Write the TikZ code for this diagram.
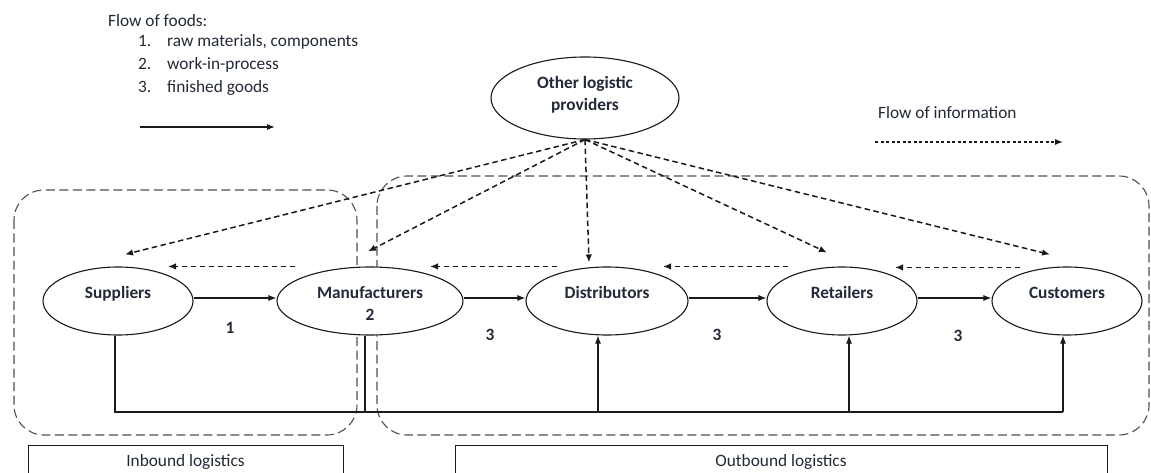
\documentclass[tikz,border=0pt]{standalone}
\usepackage{fontspec}
\setmainfont{Carlito}
\usetikzlibrary{arrows.meta,shapes.geometric,calc}
\definecolor{ink}{RGB}{25,25,30}
\definecolor{txt}{RGB}{35,42,55}
\definecolor{boxc}{RGB}{80,80,80}
\begin{document}
\begin{tikzpicture}[x=1pt,y=-1pt,
  ell/.style={ellipse, draw=ink, fill=white, line width=1.1pt, inner sep=0pt, text height=10pt, text depth=16pt,
    font=\fontsize{17.3}{22}\selectfont\bfseries, text=txt},
  lbox/.style={draw=ink, line width=1pt, anchor=north, inner ysep=0pt, text height=21pt, text depth=22pt,
    font=\fontsize{17.3}{22}\selectfont, text=txt},
  txtn/.style={inner sep=0pt, font=\fontsize{17.3}{22}\selectfont, text=txt},
  num/.style={inner sep=0pt, font=\fontsize{17.3}{22}\selectfont\bfseries, text=txt},
  line/.style={draw=ink, line width=1.1pt},
  flow/.style={line, -{Latex[length=8pt,width=6pt]}},
  info/.style={draw=ink, line width=1.5pt, dash pattern=on 5.5pt off 3.5pt, -{Latex[length=8pt,width=6.5pt]}},
  infolg/.style={draw=ink, line width=1.1pt, dash pattern=on 3pt off 2.5pt, -{Latex[length=8pt,width=6pt]}},
  boxd/.style={draw=boxc, line width=1.1pt, dash pattern=on 9pt off 4.5pt, rounded corners=30pt}
]
\useasboundingbox (0,0) rectangle (1151,473);
\clip (0,0) rectangle (1151,473);
\fill[white] (0,0) rectangle (1151,473);

% legend
\node[txtn, anchor=base west] (fof) at (108,27) {Flow of foods:};
\node[txtn, anchor=base west] (n1) at (138,47) {1.};
\node[txtn, anchor=base west] (t1) at (167,47) {raw materials, components};
\node[txtn, anchor=base west] (n2) at (138,70) {2.};
\node[txtn, anchor=base west] (t2) at (167,70) {work-in-process};
\node[txtn, anchor=base west] (n3) at (138,93) {3.};
\node[txtn, anchor=base west] (t3) at (167,93) {finished goods};
\coordinate (lgA) at (140,127);
\coordinate (lgB) at (275,127);
\draw[flow] (lgA) -- (lgB);

\node[txtn, anchor=base west] (foi) at (878,119) {Flow of information};
\coordinate (liA) at (875,142);
\coordinate (liB) at (1063,142);
\draw[infolg] (liA) -- (liB);

% dashed regions
\draw[boxd] (14,190) rectangle (357,435);
\draw[boxd] (377,176) rectangle (1149,435);

% nodes
\node[ell, minimum width=188pt, minimum height=82pt, text depth=28pt] (opl) at (585,98)
  {\begin{tabular}[t]{@{}c@{}}Other logistic\\providers\end{tabular}};
\node[ell, minimum width=150pt, minimum height=68pt] (sup) at (118,301) {Suppliers};
\node[ell, minimum width=186pt, minimum height=68pt] (man) at (370,301)
  {\begin{tabular}[t]{@{}c@{}}Manufacturers\\2\end{tabular}};
\node[ell, minimum width=162pt, minimum height=68pt] (dis) at (607,301) {Distributors};
\node[ell, minimum width=150pt, minimum height=68pt] (ret) at (842,301) {Retailers};
\node[ell, minimum width=150pt, minimum height=68pt] (cus) at (1067,301) {Customers};

% logistics labels
\node[lbox, minimum width=315pt] (inb) at (185.5,445) {Inbound logistics};
\node[lbox, minimum width=652pt] (outb) at (781,445) {Outbound logistics};

% material flow
\draw[flow] ([yshift=3pt]sup.east) -- ([yshift=3pt]man.west);
\draw[flow] ([yshift=3pt]man.east) -- ([yshift=3pt]dis.west);
\draw[flow] ([yshift=3pt]dis.east) -- ([yshift=3pt]ret.west);
\draw[flow] ([yshift=3pt]ret.east) -- ([yshift=3pt]cus.west);
\node[num] (l1) at (230,328) {1};
\node[num] (l2) at (490,335) {3};
\node[num] (l3) at (717,335) {3};
\node[num] (l4) at (958,336) {3};

% bus
\coordinate (busY) at (0,412);
\draw[line] ([xshift=-3pt]sup.south) -- ([xshift=-3pt]sup.south |- busY) -- ([xshift=-4pt]cus.south |- busY);
\draw[line] ([xshift=-5pt]man.south) -- ([xshift=-5pt]man.south |- busY);
\draw[flow] ([xshift=-9pt]dis.south |- busY) -- ([xshift=-9pt]dis.south);
\draw[flow] ([xshift=7pt]ret.south |- busY) -- ([xshift=7pt]ret.south);
\draw[flow] ([xshift=-4pt]cus.south |- busY) -- ([xshift=-4pt]cus.south);

% information flow
\draw[info] (opl.south) -- ($(sup.north)+(7,-12)$);
\draw[info] (opl.south) -- ($(man.north)+(-2,-15)$);
\draw[info] (opl.south) -- ($(dis.north)+(-18,-4)$);
\draw[info] (opl.south) -- ($(ret.north)+(-15,-14)$);
\draw[info] (opl.south) -- ($(cus.north)+(-17,-12)$);
\draw[info] ($(man.north)+(-75,0)$) -- ($(sup.north)+(50,0)$);
\draw[info] ($(dis.north)+(-50,0)$) -- ($(man.north)+(60,0)$);
\draw[info] ($(ret.north)+(-54,0)$) -- ($(dis.north)+(56,0)$);
\draw[info] ($(cus.north)+(-47,1)$) -- ($(ret.north)+(53,1)$);
\end{tikzpicture}
\end{document}
